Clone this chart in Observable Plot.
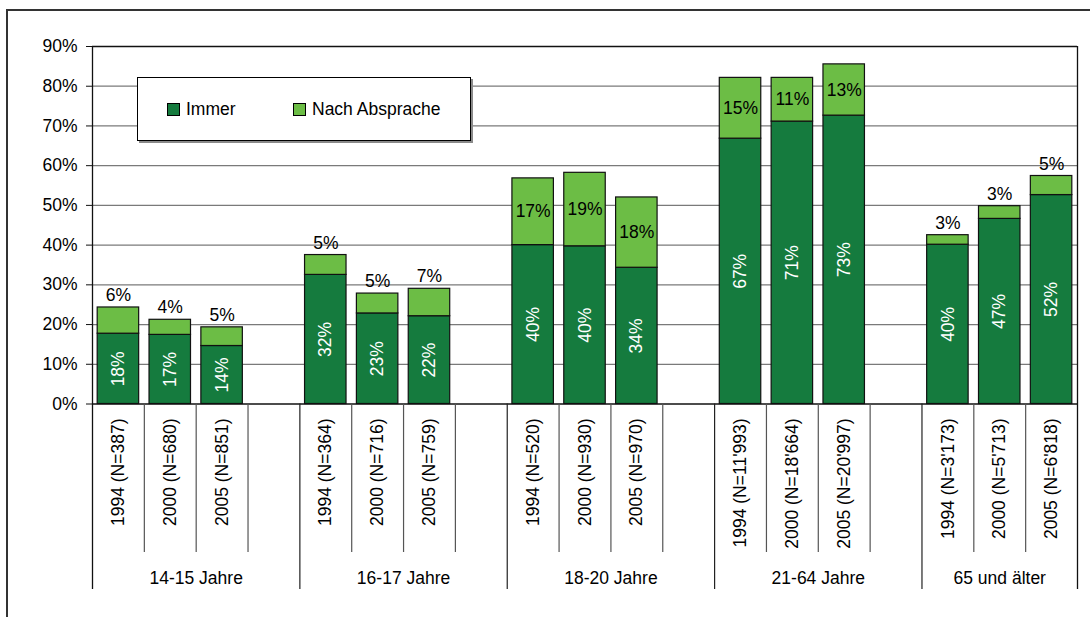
<!DOCTYPE html>
<html>
<head>
<meta charset="utf-8">
<script src="https://cdn.jsdelivr.net/npm/d3@7"></script>
<script src="https://cdn.jsdelivr.net/npm/@observablehq/plot@0.6"></script>
<style>
  html, body { margin: 0; padding: 0; background: #fff; }
  body { width: 1090px; height: 617px; position: relative; overflow: hidden; font-family: "Liberation Sans", Arial, sans-serif; }
  #frame { position: absolute; left: 6px; top: 9px; width: 1200px; height: 700px; border-top: 2px solid #333; border-left: 2px solid #333; }
  #chart { position: absolute; left: 0; top: 0; }
  #legend { position: absolute; left: 137px; top: 77px; width: 332px; height: 62px; background: #fff; border: 1px solid #000; box-shadow: 2px 2px 0 #8a8a8a; font-size: 17.5px; color: #000; }
  .item { position: absolute; top: 21px; display: flex; align-items: center; }
  .sw { width: 11px; height: 11px; border: 1px solid #000; margin-right: 6px; }
</style>
</head>
<body>
<div id="frame"></div>
<div id="chart"></div>
<div id="legend"></div>
<script>
// ---- data ----
const seriesNames = ["Immer", "Nach Absprache"];
const seriesColors = ["#157b3e", "#6cbd45"];
const groups = ["14-15 Jahre", "16-17 Jahre", "18-20 Jahre", "21-64 Jahre", "65 und älter"];
const barLabels = [
  "1994 (N=387)", "2000 (N=680)", "2005 (N=851)",
  "1994 (N=364)", "2000 (N=716)", "2005 (N=759)",
  "1994 (N=520)", "2000 (N=930)", "2005 (N=970)",
  "1994 (N=11'993)", "2000 (N=18'664)", "2005 (N=20'997)",
  "1994 (N=3'173)", "2000 (N=5'713)", "2005 (N=6'818)"
];
const immer = [17.7, 17.4, 14.6, 32.5, 22.8, 22.1, 40.0, 39.7, 34.3, 66.8, 71.1, 72.6, 40.1, 46.6, 52.6];
const nach  = [6.6, 3.8, 4.7, 5.0, 5.0, 6.9, 16.8, 18.5, 17.7, 15.3, 11.0, 12.9, 2.4, 3.2, 4.8];
const immerLabels = ["18%", "17%", "14%", "32%", "23%", "22%", "40%", "40%", "34%", "67%", "71%", "73%", "40%", "47%", "52%"];
const nachLabels  = ["6%", "4%", "5%", "5%", "5%", "7%", "17%", "19%", "18%", "15%", "11%", "13%", "3%", "3%", "5%"];
const yTicks = [0, 10, 20, 30, 40, 50, 60, 70, 80, 90];

// ---- derived table ----
const barsPerGroup = 3, slotsPerGroup = 4;
const rows = barLabels.map((label, j) => {
  const g = Math.floor(j / barsPerGroup), k = j % barsPerGroup;
  const slot = g * slotsPerGroup + k;
  return { label, slot, immer: immer[j], nach: nach[j], total: immer[j] + nach[j], immerLabel: immerLabels[j], nachLabel: nachLabels[j] };
});
const nSlots = (groups.length - 1) * slotsPerGroup + barsPerGroup; // 19
const groupRows = groups.map((name, g) => {
  const start = g * slotsPerGroup;
  const end = Math.min(start + slotsPerGroup, nSlots);
  return { name, start, end, mid: (start + end) / 2 };
});
const edgeSeps = [0, nSlots];
const longSeps = [...new Set(groupRows.flatMap(d => [d.start, d.end]))].filter(s => !edgeSeps.includes(s));
const shortSeps = d3.range(0, nSlots + 1).filter(s => !longSeps.includes(s) && !edgeSeps.includes(s));

const font = "Liberation Sans, Arial, sans-serif";
const fs = 17.5;
const plotTop = 46, plotBottom = 403.5;
const H = 617;
const plotH = plotBottom - plotTop;

const chart = Plot.plot({
  width: 1090,
  height: H,
  marginLeft: 92,
  marginRight: 13,
  marginTop: plotTop,
  marginBottom: H - plotBottom,
  style: { fontFamily: font, fontSize: fs + "px", color: "#000", background: "transparent", overflow: "visible" },
  x: { type: "linear", domain: [0, nSlots], axis: null },
  y: { domain: [0, 90], axis: null },
  marks: [
    Plot.ruleY(yTicks.filter(t => t > 0 && t < 90), { stroke: "#7a7a7a", strokeWidth: 1.3 }),
    Plot.ruleY([90], { stroke: "#111", strokeWidth: 1.3 }),
    Plot.axisY({ ticks: yTicks, tickFormat: d => d + "%", tickSize: 6, tickPadding: 9, stroke: "#111", fontSize: fs, textStroke: "none" }),
    // bars
    Plot.rectY(rows, { x1: d => d.slot + 0.1, x2: d => d.slot + 0.9, y1: 0, y2: "immer", fill: seriesColors[0], stroke: "#111", strokeWidth: 1.2 }),
    Plot.rectY(rows, { x1: d => d.slot + 0.1, x2: d => d.slot + 0.9, y1: "immer", y2: "total", fill: seriesColors[1], stroke: "#111", strokeWidth: 1.2 }),
    // axes lines
    Plot.ruleY([0], { stroke: "#111", strokeWidth: 1.3 }),
    Plot.ruleX(edgeSeps, { x: d => d, stroke: "#111", strokeWidth: 1.3, insetBottom: -185.5 }),
    Plot.ruleX(longSeps, { x: d => d, stroke: "#222", strokeWidth: 1.2, insetTop: plotH, insetBottom: -185.5 }),
    Plot.ruleX(shortSeps, { x: d => d, stroke: "#555", strokeWidth: 1.2, insetTop: plotH, insetBottom: -148.5 }),
    // value labels
    Plot.text(rows, { x: d => d.slot + 0.5, y: d => d.immer / 2, text: "immerLabel", rotate: -90, fill: "white", fontSize: fs }),
    Plot.text(rows.filter(d => d.nach >= 10), { x: d => d.slot + 0.5, y: d => d.immer + d.nach / 2, text: "nachLabel", fill: "#000", fontSize: fs }),
    Plot.text(rows.filter(d => d.nach < 10), { x: d => d.slot + 0.5, y: "total", dy: -12, text: "nachLabel", fill: "#000", fontSize: fs }),
    // category labels
    Plot.text(rows, { x: d => d.slot + 0.5, y: 0, text: "label", rotate: -90, textAnchor: "end", dy: 14.5, fill: "#000", fontSize: fs }),
    Plot.text(groupRows, { x: "mid", y: 0, text: "name", dy: 174.5, fill: "#000", fontSize: fs })
  ]
});
document.getElementById("chart").appendChild(chart);

// legend
const legend = document.getElementById("legend");
const legendX = [29, 155];
seriesNames.forEach((name, i) => {
  const item = document.createElement("div");
  item.className = "item";
  item.style.left = legendX[i] + "px";
  const sw = document.createElement("div");
  sw.className = "sw";
  sw.style.background = seriesColors[i];
  const tx = document.createElement("span");
  tx.textContent = name;
  item.appendChild(sw);
  item.appendChild(tx);
  legend.appendChild(item);
});
</script>
</body>
</html>
